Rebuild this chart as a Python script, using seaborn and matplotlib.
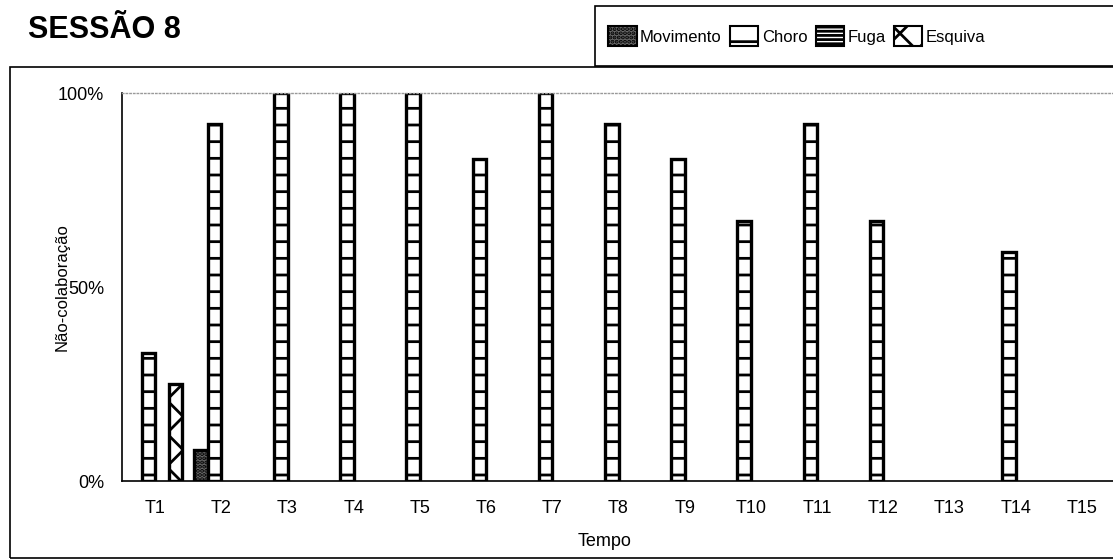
import pandas as pd
import matplotlib.pyplot as plt
import seaborn as sns
from matplotlib.patches import Patch, Rectangle
from matplotlib.ticker import MultipleLocator, PercentFormatter

# -------------------------
# Data
# -------------------------
tempos = ["T1", "T2", "T3", "T4", "T5", "T6", "T7", "T8",
          "T9", "T10", "T11", "T12", "T13", "T14", "T15"]
series = ["Movimento", "Choro", "Fuga", "Esquiva"]

movimento = [0, 8, 0, 0, 0, 0, 0, 0, 0, 0, 0, 0, 0, 0, 0]
choro = [33, 92, 100, 100, 100, 83, 100, 92, 83, 67, 92, 67, 0, 59, 0]
fuga = [0, 0, 0, 0, 0, 0, 0, 0, 0, 0, 0, 0, 0, 0, 0]
esquiva = [25, 0, 0, 0, 0, 0, 0, 0, 0, 0, 0, 0, 0, 0, 0]

df = pd.DataFrame({
    "Tempo": tempos * 4,
    "Tipo": [s for s in series for _ in tempos],
    "Valor": movimento + choro + fuga + esquiva,
})

# fill / hatch per series (black & white print look)
styles = {
    "Movimento": dict(facecolor="#6a6a6a", hatch="...."),
    "Choro": dict(facecolor="white", hatch="-"),
    "Fuga": dict(facecolor="white", hatch="----"),
    "Esquiva": dict(facecolor="white", hatch="x"),
}

# -------------------------
# Plot
# -------------------------
sns.set_style("white")
plt.rcParams["font.family"] = ["Liberation Sans", "DejaVu Sans"]
plt.rcParams["text.color"] = "black"
plt.rcParams["axes.labelcolor"] = "black"
plt.rcParams["xtick.color"] = "black"
plt.rcParams["ytick.color"] = "black"
plt.rcParams["hatch.linewidth"] = 2.0
plt.rcParams["hatch.color"] = "black"

fig = plt.figure(figsize=(11.13, 5.6), dpi=100)
ax = fig.add_axes([122 / 1113, 79 / 560, 993 / 1113, 388 / 560])

sns.barplot(data=df, x="Tempo", y="Valor", hue="Tipo", order=tempos,
            hue_order=series, width=0.82, errorbar=None, legend=False,
            edgecolor="black", linewidth=2.4, ax=ax)

for cont, name in zip(ax.containers, series):
    for bar in cont:
        bar.set_facecolor(styles[name]["facecolor"])
        bar.set_hatch(styles[name]["hatch"])
        bar.set_edgecolor("black")
        if bar.get_height() == 0:
            bar.set_visible(False)

ax.set_ylim(0, 100)
ax.set_xlim(-0.5, len(tempos) - 0.5)
ax.set_yticks([0, 50, 100])
ax.yaxis.set_major_formatter(PercentFormatter(100, decimals=0))
ax.tick_params(axis="y", length=7, width=1, pad=6, labelsize=13)
ax.tick_params(axis="x", which="major", length=0, pad=14, labelsize=13)
ax.xaxis.set_minor_locator(MultipleLocator(1, offset=0.5))
ax.tick_params(axis="x", which="minor", length=5, width=1)

for side in ["left", "bottom"]:
    ax.spines[side].set_color("black")
    ax.spines[side].set_linewidth(1.2)
ax.spines["right"].set_visible(False)
ax.spines["top"].set_color("#999999")
ax.spines["top"].set_linestyle(":")
ax.spines["top"].set_linewidth(1)

ax.set_ylabel("Não-colaboração", fontsize=12)
ax.yaxis.set_label_coords(-52 / 993, 0.5)
ax.set_xlabel("Tempo", fontsize=13)
ax.xaxis.set_label_coords((605 - 122) / 993, -52 / 388)

# outer frame and legend box
fig.add_artist(Rectangle((10 / 1113, 2 / 560), 1.2, 491 / 560,
                         transform=fig.transFigure, fill=False,
                         edgecolor="black", linewidth=1.2))
fig.add_artist(Rectangle((595 / 1113, 494 / 560), 1.2, 60 / 560,
                         transform=fig.transFigure, facecolor="white",
                         edgecolor="black", linewidth=1.2))

handles = [Patch(edgecolor="black", linewidth=1.5, label=s, **styles[s])
           for s in series]
fig.legend(handles=handles, loc="center left", ncol=4, frameon=False,
           bbox_to_anchor=(600 / 1113, 524 / 560), fontsize=12,
           handlelength=1.7, handleheight=1.4, handletextpad=0.2,
           columnspacing=0.5, borderpad=0)

fig.text(28 / 1113, 530 / 560, "SESSÃO 8", fontsize=22, fontweight="bold",
         va="center", ha="left")

plt.savefig("out.png", dpi=100)
